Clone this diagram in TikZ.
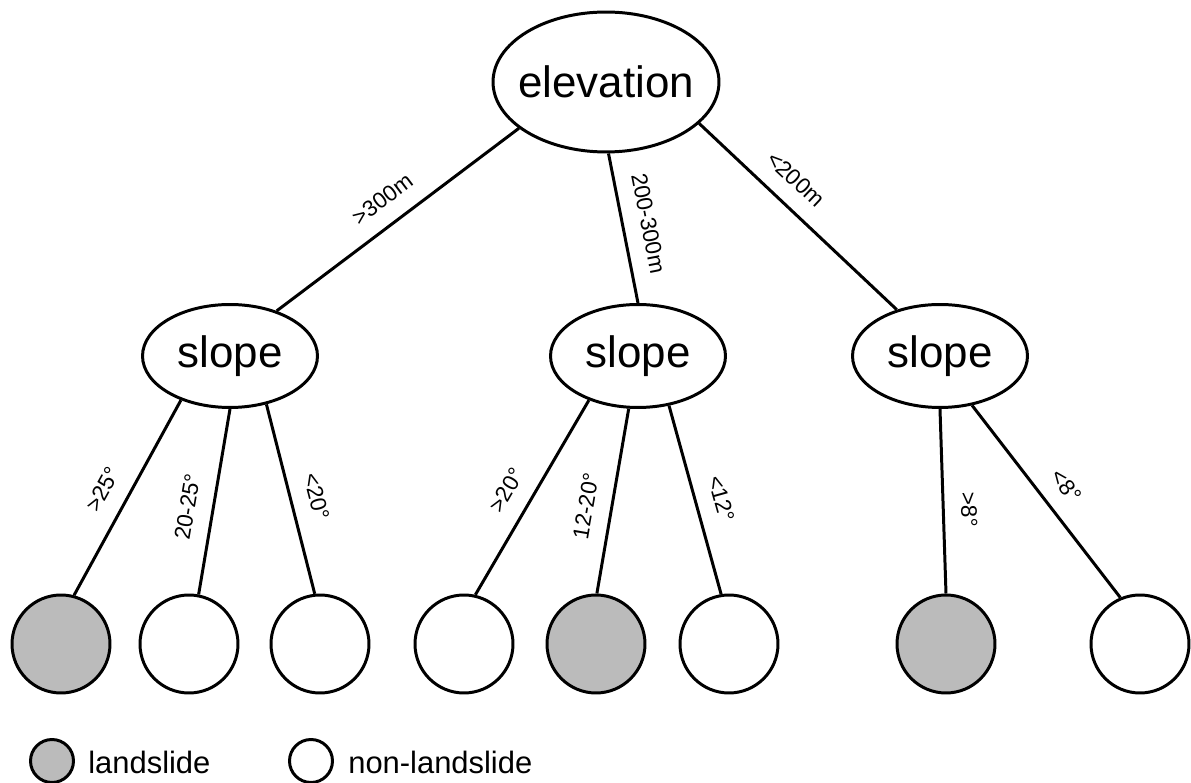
\documentclass[tikz,border=0pt]{standalone}
\usepackage{fontspec}
\setmainfont{Liberation Sans}
\usetikzlibrary{shapes.geometric}

\definecolor{slidegray}{RGB}{187,187,187}

\tikzset{
  attr/.style={ellipse, draw, line width=1.7pt, fill=white, inner sep=0pt,
               font=\fontsize{25}{30}\selectfont},
  leaf/.style={circle, draw, line width=1.7pt, minimum size=1.96cm, inner sep=0pt},
  slide/.style={leaf, fill=slidegray},
  noslide/.style={leaf, fill=white},
  key/.style={circle, draw, line width=1.7pt, minimum size=0.86cm, inner sep=0pt},
  keytext/.style={anchor=base west, inner sep=0pt, font=\fontsize{17.6}{21}\selectfont},
  branch/.style={line width=1.7pt},
  cut/.style={sloped, above, inner sep=1pt, outer sep=0.32cm,
              font=\fontsize{12.8}{15}\selectfont},
}

\begin{document}
\begin{tikzpicture}[x=0.02cm, y=-0.02cm]
\useasboundingbox (0,0) rectangle (1191,783);

% decision nodes
\node[attr, minimum width=4.52cm, minimum height=2.8cm] (elev) at (606,82) {\makebox[0pt]{elevation}};
\node[attr, minimum width=3.5cm, minimum height=2.06cm] (slopeL) at (230,356) {\makebox[0pt]{slope}};
\node[attr, minimum width=3.5cm, minimum height=2.06cm] (slopeM) at (638,356) {\makebox[0pt]{slope}};
\node[attr, minimum width=3.5cm, minimum height=2.06cm] (slopeR) at (940,356) {\makebox[0pt]{slope}};

% leaves
\node[slide]   (leafA) at (61,644) {};
\node[noslide] (leafB) at (189,644) {};
\node[noslide] (leafC) at (320,644) {};
\node[noslide] (leafD) at (464,644) {};
\node[slide]   (leafE) at (596,644) {};
\node[noslide] (leafF) at (729,644) {};
\node[slide]   (leafG) at (946,644) {};
\node[noslide] (leafH) at (1140,644) {};

% branches from the root
\draw[branch] (elev.208) -- node[cut, pos=.5] {>300m} (slopeL.44);
\draw[branch] (elev.272) -- node[cut, pos=.5] {200-300m} (slopeM.90);
\draw[branch] (elev.336) -- node[cut, pos=.4] {<200m} (slopeR.133);

% branches to the leaves
\draw[branch] (slopeL.222) -- node[cut, pos=.52] {>25°} (leafA.75);
\draw[branch] (slopeL.270) -- node[cut, pos=.55] {20-25°} (leafB.79);
\draw[branch] (slopeL.307) -- node[cut, pos=.52] {<20°} (leafC.96);

\draw[branch] (slopeM.222) -- node[cut, pos=.53] {>20°} (leafD.77);
\draw[branch] (slopeM.260) -- node[cut, pos=.55] {12-20°} (leafE.89);
\draw[branch] (slopeM.302) -- node[cut, pos=.53] {<12°} (leafF.99);

\draw[branch] (slopeR.270) -- node[cut, pos=.55] {>8°} (leafG.90);
\draw[branch] (slopeR.303) -- node[cut, pos=.5] {<8°} (leafH.113);

% legend
\node[key, fill=slidegray] (keyslide) at (52,761) {};
\node[keytext] (keyslidetxt) at (88,774) {landslide};
\node[key, fill=white] (keynone) at (311,761) {};
\node[keytext] (keynonetxt) at (348,774) {non-landslide};
\end{tikzpicture}
\end{document}
